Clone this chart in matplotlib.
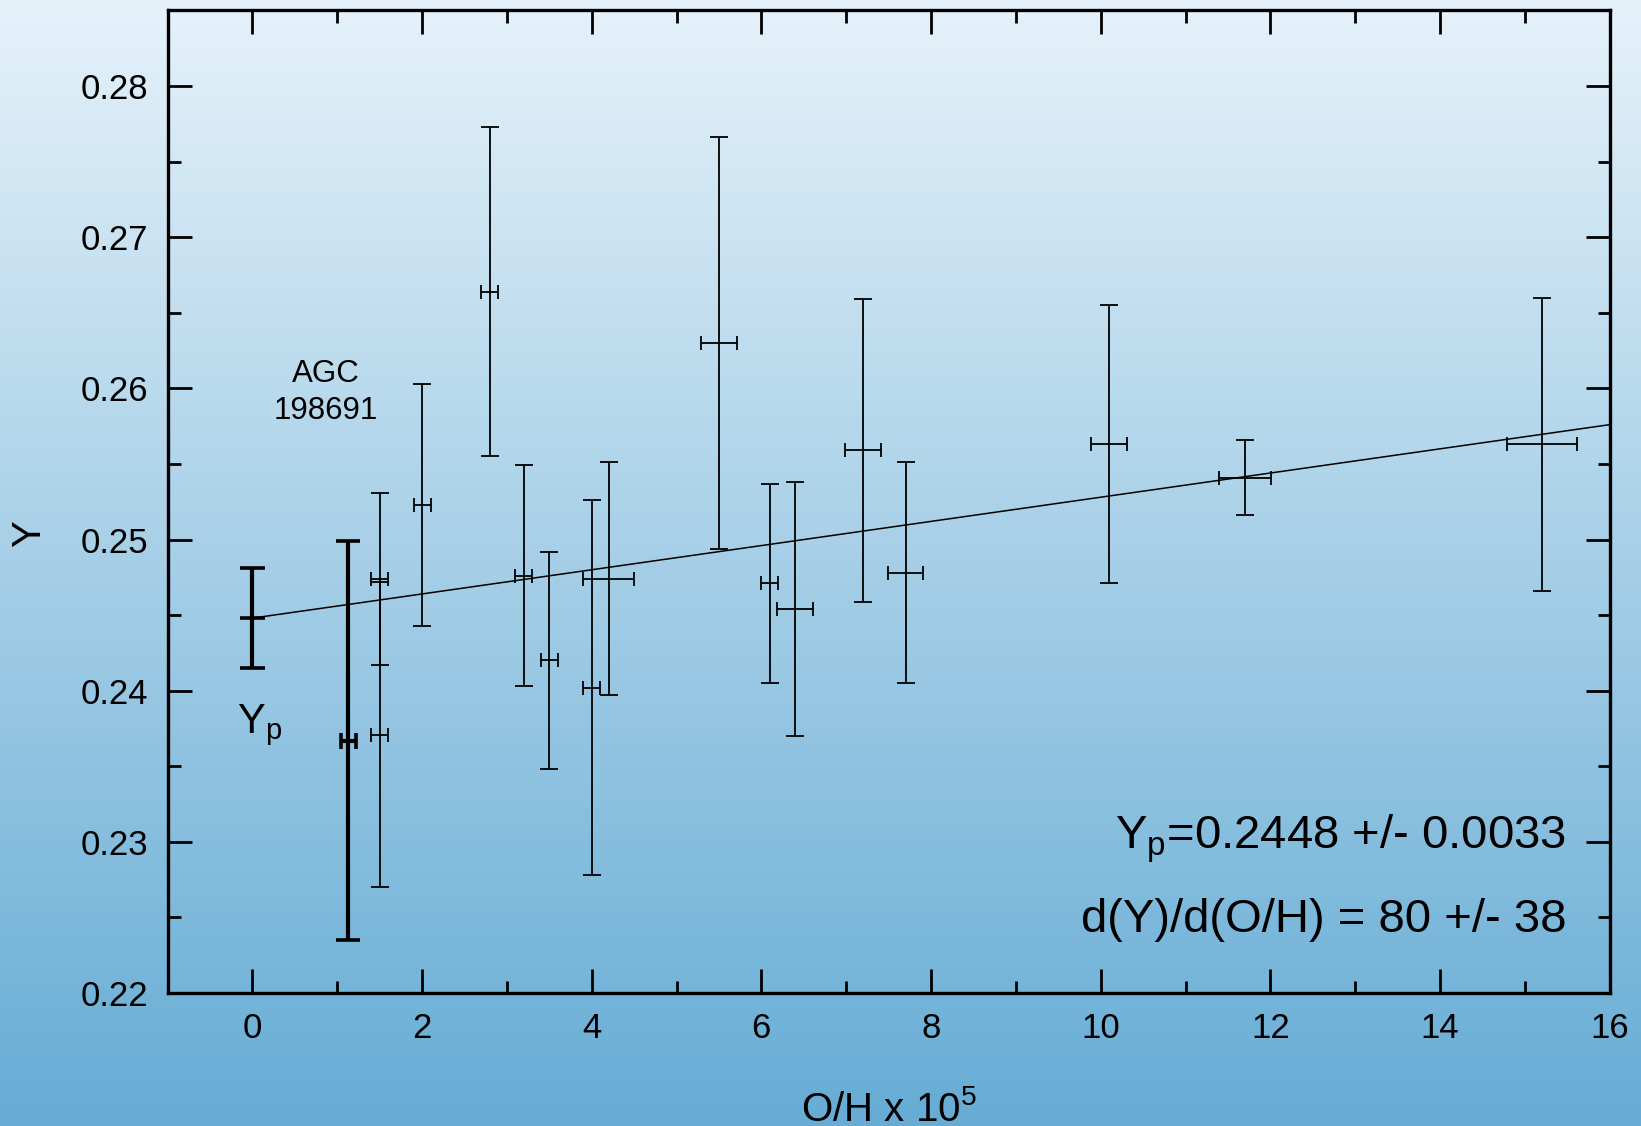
import numpy as np
import matplotlib
matplotlib.use('Agg')
import matplotlib.pyplot as plt
from matplotlib.colors import LinearSegmentedColormap
from matplotlib.ticker import MultipleLocator

plt.rcParams['font.family'] = ['Liberation Sans', 'DejaVu Sans']
plt.rcParams['mathtext.fontset'] = 'custom'
plt.rcParams['mathtext.rm'] = 'Liberation Sans'
plt.rcParams['mathtext.it'] = 'Liberation Sans'

# H II region sample: O/H (x 1e-5), helium mass fraction Y and errors
oh = [1.5, 1.5, 2.0, 2.8, 3.2, 3.5, 4.0, 4.2, 5.5, 6.1, 6.4, 7.2, 7.7, 10.1, 11.7, 15.2]
oh_err = [0.1, 0.1, 0.1, 0.1, 0.1, 0.1, 0.1, 0.3, 0.21, 0.1, 0.21, 0.21, 0.21, 0.21, 0.31, 0.41]
y = [0.2474, 0.2371, 0.2523, 0.2664, 0.2476, 0.2420, 0.2402, 0.2474, 0.2630, 0.2471,
     0.2454, 0.2559, 0.2478, 0.2563, 0.2541, 0.2563]
y_err = [0.0057, 0.0101, 0.0080, 0.0109, 0.0073, 0.0072, 0.0124, 0.0077, 0.0136, 0.0066,
         0.0084, 0.0100, 0.0073, 0.0092, 0.0025, 0.0097]

# AGC 198691
agc_oh, agc_oh_err = 1.13, 0.09
agc_y, agc_y_err = 0.2367, 0.0132

# regression result
yp, yp_err = 0.2448, 0.0033
slope, slope_err = 80, 38

fig = plt.figure(figsize=(16.41, 11.26), dpi=100)

# background gradient
bg = fig.add_axes([0, 0, 1, 1], zorder=-10)
cmap = LinearSegmentedColormap.from_list('bg', ['#66acd5', '#a6cfe7', '#e6f2fa'])
grad = np.linspace(0, 1, 256).reshape(-1, 1)
bg.imshow(grad, aspect='auto', cmap=cmap, origin='lower', extent=[0, 1, 0, 1])
bg.axis('off')

ax = fig.add_axes([0.1021, 0.1181, 0.8788, 0.8726])
ax.patch.set_alpha(0)

ax.errorbar(oh, y, yerr=y_err, fmt='none', ecolor='black', elinewidth=1.3,
            capsize=6.5, capthick=1.3)
ax.errorbar(oh, y, xerr=oh_err, fmt='none', ecolor='black', elinewidth=1.3,
            capsize=4.7, capthick=1.3)

ax.errorbar([agc_oh], [agc_y], yerr=[agc_y_err], fmt='none', ecolor='black',
            elinewidth=3, capsize=8.7, capthick=2.6)
ax.errorbar([agc_oh], [agc_y], xerr=[agc_oh_err], fmt='none', ecolor='black',
            elinewidth=3, capsize=6, capthick=2.6)

ax.errorbar([0], [yp], yerr=[yp_err], fmt='none', ecolor='black',
            elinewidth=3, capsize=9, capthick=2.6)
ax.plot([0], [yp], marker='_', markersize=18, mew=2.6, color='black')

xf = np.array([0, 16])
ax.plot(xf, yp + slope * 1e-5 * xf, color='black', lw=1.1)

ax.text(0.87, 0.2597, 'AGC\n198691', ha='center', va='center', fontsize=22.5,
        linespacing=1.3)
ax.text(0.08, 0.2377, r'Y$_\mathrm{p}$', ha='center', va='center', fontsize=30)
ax.text(15.49, 0.2302, r'Y$_\mathrm{p}$=%.4f +/- %.4f' % (yp, yp_err),
        ha='right', va='center', fontsize=34)
ax.text(15.49, 0.2248, 'd(Y)/d(O/H) = %d +/- %d' % (slope, slope_err),
        ha='right', va='center', fontsize=34)

ax.set_xlim(-1, 16)
ax.set_ylim(0.22, 0.285)
ax.xaxis.set_major_locator(MultipleLocator(2))
ax.xaxis.set_minor_locator(MultipleLocator(1))
ax.yaxis.set_minor_locator(MultipleLocator(0.005))
ax.set_yticks([0.22, 0.23, 0.24, 0.25, 0.26, 0.27, 0.28])
ax.set_yticklabels(['0.22', '0.23', '0.24', '0.25', '0.26', '0.27', '0.28'])

ax.tick_params(which='both', direction='in', top=True, right=True, width=2,
               labelsize=25, pad=14)
ax.tick_params(which='major', length=17)
ax.tick_params(which='minor', length=9)
for s in ax.spines.values():
    s.set_linewidth(2.4)

ax.set_xlabel(r'O/H x 10$^5$', fontsize=29, labelpad=32)
ax.set_ylabel('Y', fontsize=29)
ax.yaxis.set_label_coords(-0.083, 0.468)

fig.savefig('out.png', dpi=100)
